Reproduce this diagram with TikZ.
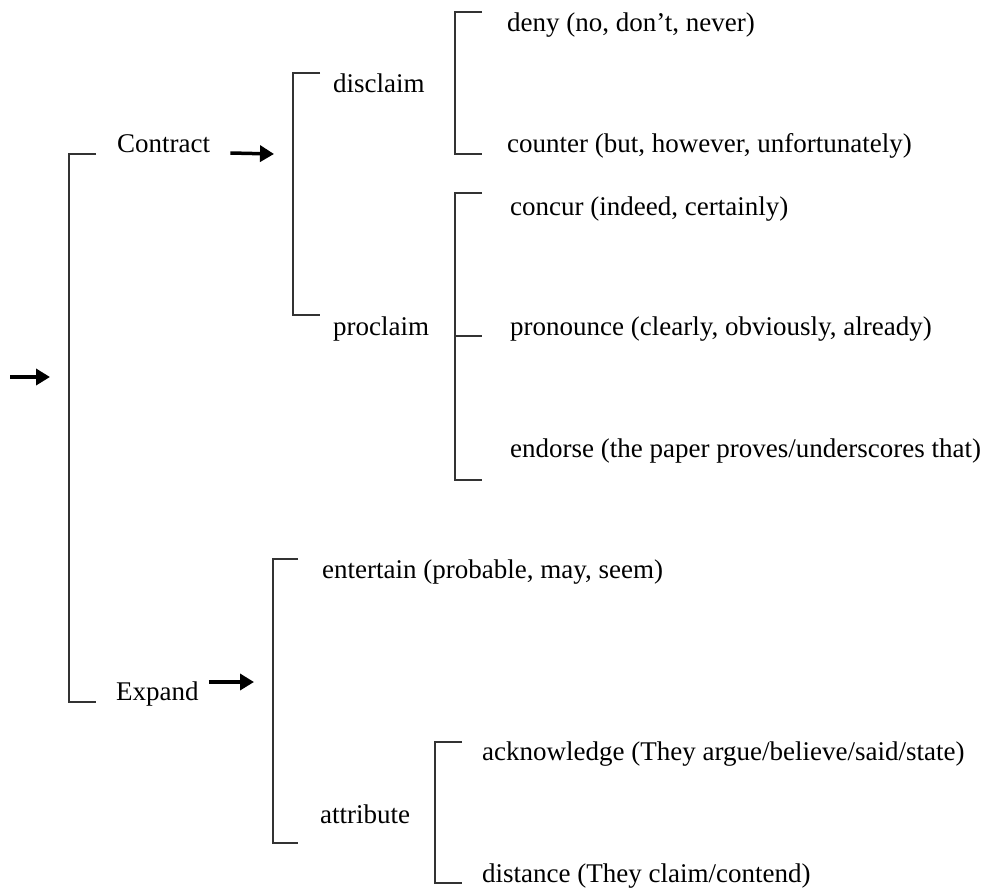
\documentclass[tikz,border=0pt]{standalone}
\usepackage{fontspec}
\setmainfont{Liberation Serif}
\usetikzlibrary{arrows.meta}
\tikzset{
    engtext/.style={anchor=base west, inner sep=0pt, font=\fontsize{27}{32}\selectfont},
    engbracket/.style={draw=black!80, line width=2pt},
    engarrow/.style={-{Triangle[length=14pt, width=16pt]}, line width=3.5pt, black}
}

\begin{document}
\begin{tikzpicture}[x=1pt, y=-1pt]
\useasboundingbox (0,0) rectangle (985,888);

% first level
\node[engtext] (contract) at (117,153) {Contract};
\node[engtext] (expand) at (116,700) {Expand};

% contract branch
\node[engtext] (disclaim) at (333,93) {disclaim};
\node[engtext] (proclaim) at (333,335) {proclaim};
\node[engtext] (deny) at (507,32) {deny (no, don’t, never)};
\node[engtext] (counter) at (507,153) {counter (but, however, unfortunately)};
\node[engtext] (concur) at (510,215) {concur (indeed, certainly)};
\node[engtext] (pronounce) at (510,335) {pronounce (clearly, obviously, already)};
\node[engtext] (endorse) at (510,457) {endorse (the paper proves/underscores that)};

% expand branch
\node[engtext] (entertain) at (322,578) {entertain (probable, may, seem)};
\node[engtext] (attribute) at (320,823) {attribute};
\node[engtext] (acknowledge) at (482,760) {acknowledge (They argue/believe/said/state)};
\node[engtext] (distance) at (482,882) {distance (They claim/contend)};

% brackets
\draw[engbracket] (96,154) -| (69,702) -- (96,702);
\draw[engbracket] (320,73) -| (293,315) -- (320,315);
\draw[engbracket] (482,12) -| (455,154) -- (482,154);
\draw[engbracket] (482,193) -| (455,480) -- (482,480);
\draw[engbracket] (455,336) -- (482,336);
\draw[engbracket] (298,559) -| (273,843) -- (298,843);
\draw[engbracket] (462,742) -| (435,883) -- (462,883);

% arrows
\coordinate (start) at (10,377);
\coordinate (root) at (50,377);
\coordinate (contractin) at (274,154);
\coordinate (expandin) at (254,682);
\draw[engarrow] (start) -- (root);
\draw[engarrow] ([xshift=20pt]contract.base east) -- (contractin);
\draw[engarrow] ([xshift=10pt, yshift=18pt]expand.base east) -- (expandin);

\end{tikzpicture}
\end{document}
